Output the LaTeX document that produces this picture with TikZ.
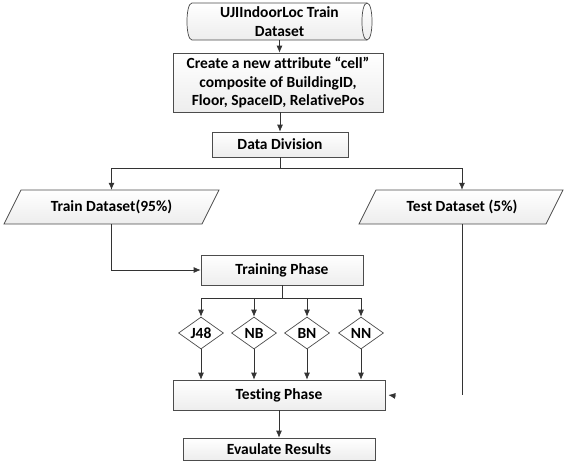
\documentclass[tikz,border=0pt]{standalone}
\usepackage{fontspec}
\setmainfont{Carlito}[Ligatures=NoCommon]
\usetikzlibrary{shapes.geometric,arrows.meta,calc}
\begin{document}
\begin{tikzpicture}[x=1pt,y=-1pt,
  every node/.style={font=\bfseries\fontsize{15.5}{18.5}\selectfont, text=black},
  boxf/.style={draw=black!70, line width=0.7pt, top color=white, bottom color=gray!14, inner sep=0pt, align=center},
  ghost/.style={inner sep=0pt, align=center},
  conn/.style={draw=black!80, line width=0.7pt},
  arr/.style={conn, -{Latex[length=7pt,width=6pt]}},
  dia/.style={diamond, draw=black!70, line width=0.7pt, fill=white, inner sep=0pt, minimum width=45pt, minimum height=32pt, aspect=1.4}]
\useasboundingbox (0,0) rectangle (566,463);

% source cylinder
\path[boxf] (192,3) -- (367,3) .. controls (373.7,3) and (373.7,40) .. (367,40) -- (192,40) .. controls (185.3,40) and (185.3,3) .. (192,3) -- cycle;
\draw[draw=black!70, line width=0.7pt] (367,3) .. controls (360.3,3) and (360.3,40) .. (367,40);
\node[ghost, minimum width=185pt, minimum height=37pt] (src) at (279.5,21.5) {UJIIndoorLoc Train\\Dataset};

\node[boxf, minimum width=210pt, minimum height=59pt] (create) at (278,82.5) {Create a new attribute “cell”\\composite of BuildingID,\\Floor, SpaceID, RelativePos};
\node[boxf, minimum width=136pt, minimum height=25pt] (datadiv) at (280,144.5) {Data Division};

% parallelograms
\path[boxf] (21,190) -- (219,190) -- (202,224) -- (4,224) -- cycle;
\node[ghost, minimum width=180pt, minimum height=34pt] (train) at (111.5,207) {Train Dataset(95\%)};
\path[boxf] (376,190) -- (563,190) -- (546,224) -- (359,224) -- cycle;
\node[ghost, minimum width=170pt, minimum height=34pt] (test) at (462,207) {Test Dataset (5\%)};

\node[boxf, minimum width=162pt, minimum height=30pt] (training) at (282,270) {Training Phase};
\node[dia] (j48) at (201,333) {J48};
\node[dia] (nb) at (254,333) {NB};
\node[dia] (bn) at (307,333) {BN};
\node[dia] (nn) at (361,333) {NN};
\node[boxf, minimum width=212pt, minimum height=30pt] (testing) at (279,395) {Testing Phase};
\node[boxf, minimum width=192pt, minimum height=22pt] (evaluate) at (279,449) {Evaulate Results};

% connectors
\draw[arr] (src.south) -- (src.south |- create.north);
\draw[arr] (datadiv.north |- create.south) -- (datadiv.north);
\coordinate (split) at (280,168);
\draw[conn] (datadiv.south) -- (split);
\draw[arr] (split) -| (train.north);
\draw[arr] (split) -| (test.north);
\draw[arr] (train.south) |- (training.west);
\coordinate (tsplit) at (282,298);
\draw[conn] (training.south) -- (tsplit);
\foreach \d in {j48,nb,bn,nn}{
  \draw[arr] (tsplit) -| (\d.north);
  \draw[arr] (\d.south) -- (\d.south |- testing.north);
}
\coordinate (testend) at (462,395);
\draw[conn] (test.south) -- (testend);
\coordinate (tipstart) at (396,396);
\draw[arr] (tipstart) -- ([xshift=3pt]testing.east);
\draw[arr] (testing.south) -- (evaluate.north);
\end{tikzpicture}
\end{document}
